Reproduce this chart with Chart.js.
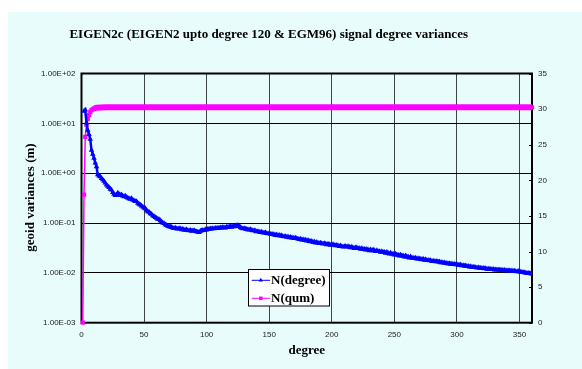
<!DOCTYPE html>
<html>
<head>
<meta charset="utf-8">
<script src="https://cdn.jsdelivr.net/npm/chart.js@4"></script>
<style>
  html, body { margin: 0; padding: 0; background: #fff; }
  #wrap { position: absolute; left: 8px; top: 12px; width: 574px; height: 357px; background: #E8FCFC; }
</style>
</head>
<body>
<div id="wrap"><canvas id="chart" width="574" height="357"></canvas></div>
<script>
/* ── EIGEN2c signal degree variances ─────────────────────── */
const chartTitle = 'EIGEN2c (EIGEN2 upto degree 120 & EGM96) signal degree variances';
const xTitle = 'degree';
const yTitle = 'geoid variances (m)';
const seriesNames = ['N(degree)', 'N(qum)'];

// x axis
const xTicks = [0, 50, 100, 150, 200, 250, 300, 350];
// left log axis
const yTicks = [0.001, 0.01, 0.1, 1, 10, 100];
const yTickLabels = ['1.00E-03', '1.00E-02', '1.00E-01', '1.00E+00', '1.00E+01', '1.00E+02'];
// right axis
const y2Ticks = [0, 5, 10, 15, 20, 25, 30, 35];

// N(degree): one value per degree, starting at degree 2
const firstDegree = 2;
const nDegree = [
  17.5, 18.5, 10.2, 7.3, 6.0, 4.8, 2.9, 2.4, 2.0, 1.6,
  1.35, 0.93, 0.88, 0.85, 0.79, 0.74, 0.69, 0.64, 0.58, 0.55,
  0.52, 0.48, 0.46, 0.41, 0.38, 0.36, 0.37, 0.40, 0.38, 0.36,
  0.37, 0.35, 0.34, 0.35, 0.33, 0.32, 0.31, 0.30, 0.31, 0.29,
  0.28, 0.27, 0.27, 0.25, 0.24, 0.23, 0.22, 0.21, 0.20, 0.195,
  0.18, 0.17, 0.165, 0.155, 0.15, 0.14, 0.135, 0.13, 0.125, 0.12,
  0.118, 0.112, 0.106, 0.10, 0.098, 0.093, 0.09, 0.087, 0.085, 0.084,
  0.082, 0.080, 0.078, 0.080, 0.077, 0.076, 0.078, 0.077, 0.074, 0.076,
  0.073, 0.072, 0.074, 0.071, 0.070, 0.072, 0.069, 0.070, 0.071, 0.068,
  0.067, 0.066, 0.065, 0.069, 0.070, 0.072, 0.071, 0.074, 0.073, 0.076,
  0.075, 0.077, 0.076, 0.078, 0.077, 0.079, 0.078, 0.080, 0.079, 0.081,
  0.080, 0.082, 0.081, 0.080, 0.083, 0.082, 0.084, 0.085, 0.083, 0.086,
  0.085, 0.088, 0.087, 0.090, 0.086, 0.082, 0.079, 0.077, 0.078, 0.076,
  0.075, 0.074, 0.073, 0.074, 0.072, 0.070, 0.071, 0.069, 0.067, 0.068,
  0.066, 0.065, 0.066, 0.064, 0.063, 0.064, 0.062, 0.061, 0.062, 0.060,
  0.059, 0.060, 0.058, 0.057, 0.058, 0.056, 0.057, 0.055, 0.056, 0.054,
  0.053, 0.054, 0.052, 0.053, 0.051, 0.052, 0.050, 0.051, 0.049, 0.050,
  0.049, 0.048, 0.047, 0.048, 0.046, 0.047, 0.045, 0.046, 0.044, 0.045,
  0.043, 0.0425, 0.043, 0.041, 0.042, 0.040, 0.041, 0.040, 0.039, 0.040,
  0.039, 0.038, 0.039, 0.038, 0.037, 0.038, 0.037, 0.036, 0.037, 0.037,
  0.036, 0.035, 0.036, 0.035, 0.034, 0.035, 0.034, 0.033, 0.034, 0.034,
  0.033, 0.034, 0.033, 0.032, 0.033, 0.032, 0.031, 0.032, 0.032, 0.031,
  0.031, 0.030, 0.031, 0.030, 0.030, 0.029, 0.030, 0.029, 0.028, 0.029,
  0.028, 0.029, 0.028, 0.027, 0.028, 0.027, 0.027, 0.026, 0.027, 0.026,
  0.026, 0.025, 0.026, 0.025, 0.024, 0.025, 0.024, 0.024, 0.023, 0.024,
  0.023, 0.023, 0.022, 0.023, 0.022, 0.022, 0.021, 0.022, 0.021, 0.021,
  0.020, 0.021, 0.020, 0.020, 0.0195, 0.020, 0.019, 0.0195, 0.019, 0.0188,
  0.0185, 0.019, 0.018, 0.0185, 0.0178, 0.018, 0.0175, 0.0178, 0.017, 0.0174,
  0.017, 0.0168, 0.0172, 0.0165, 0.0168, 0.016, 0.0163, 0.0158, 0.016, 0.0155,
  0.0157, 0.0152, 0.0155, 0.015, 0.0152, 0.0148, 0.015, 0.0146, 0.0147, 0.0144,
  0.0142, 0.0145, 0.014, 0.0141, 0.0137, 0.0139, 0.0135, 0.0136, 0.0132, 0.0134,
  0.013, 0.0132, 0.0128, 0.0129, 0.0126, 0.0128, 0.0124, 0.0126, 0.0123, 0.0124,
  0.0121, 0.0123, 0.0119, 0.012, 0.0118, 0.0119, 0.0117, 0.0118, 0.0115, 0.0116,
  0.0116, 0.0114, 0.0115, 0.0113, 0.0114, 0.0112, 0.0113, 0.0111, 0.0112, 0.011,
  0.0111, 0.0109, 0.011, 0.0108, 0.0109, 0.0107, 0.0106, 0.0108, 0.0105, 0.0104,
  0.0103, 0.0102, 0.0101, 0.0100, 0.0099, 0.0098, 0.0097, 0.0096, 0.0095
];

// N(qum): cumulative, right axis
const qumDegrees = [1, 2, 3, 4, 5, 6, 7, 8, 9, 10, 12, 15, 20, 30, 60, 100, 150, 200, 250, 300, 360];
const qumValues  = [0, 18.0, 26.1, 27.8, 28.6, 29.2, 29.6, 29.85, 30.0, 30.1, 30.18, 30.22, 30.25, 30.25, 30.25, 30.25, 30.25, 30.25, 30.25, 30.25, 30.25];

const blue = '#0000FF';
const pink = '#FF00FF';
const serif = '"Liberation Serif", "Times New Roman", serif';
const sans  = '"Liberation Sans", Arial, sans-serif';

const decor = {
  id: 'decor',
  beforeDatasetsDraw(chart) {
    const { ctx, chartArea: a, scales } = chart;
    ctx.save();
    ctx.strokeStyle = '#000';
    ctx.lineWidth = 2;
    ctx.strokeRect(a.left, a.top, a.right - a.left, a.bottom - a.top);
    ctx.lineWidth = 1;
    y2Ticks.forEach(v => {
      const y = Math.round(scales.y2.getPixelForValue(v)) + 0.5;
      ctx.beginPath(); ctx.moveTo(a.right - 3, y); ctx.lineTo(a.right, y); ctx.stroke();
    });
    ctx.restore();
  },
  afterDraw(chart) {
    const { ctx } = chart;
    ctx.save();
    ctx.fillStyle = '#000';
    ctx.textAlign = 'center';
    ctx.textBaseline = 'middle';
    ctx.font = 'bold 13px ' + serif;
    ctx.fillText(chartTitle, 260.7, 22.7);
    ctx.fillText(xTitle, 298.7, 339);
    ctx.translate(23, 185.5);
    ctx.rotate(-Math.PI / 2);
    ctx.fillText(yTitle, 0, 0);
    ctx.restore();

    // legend box
    ctx.save();
    const bx = 240.5, by = 257.5, bw = 81, bh = 36.5;
    ctx.fillStyle = '#fff';
    ctx.fillRect(bx, by, bw, bh);
    ctx.strokeStyle = '#000';
    ctx.lineWidth = 1;
    ctx.strokeRect(bx, by, bw, bh);
    const rows = [
      { name: seriesNames[0], color: blue, style: 'triangle', y: 268.3 },
      { name: seriesNames[1], color: pink, style: 'rect', y: 286.3 }
    ];
    rows.forEach(r => {
      ctx.strokeStyle = r.color;
      ctx.lineWidth = 1;
      ctx.beginPath(); ctx.moveTo(243.7, r.y); ctx.lineTo(262, r.y); ctx.stroke();
      ctx.fillStyle = r.color;
      Chart.helpers.drawPoint(ctx, { pointStyle: r.style, radius: 2.5, borderWidth: 0 }, 252.8, r.y);
      ctx.fillStyle = '#000';
      ctx.textAlign = 'left';
      ctx.textBaseline = 'middle';
      ctx.font = 'bold 13px ' + serif;
      ctx.fillText(r.name, 263, r.y + 0.5);
    });
    ctx.restore();
  }
};

new Chart(document.getElementById('chart'), {
  type: 'line',
  data: {
    datasets: [
      {
        label: seriesNames[0],
        data: nDegree.map((v, i) => ({ x: firstDegree + i, y: v })),
        yAxisID: 'y',
        borderColor: blue,
        backgroundColor: blue,
        borderWidth: 2.5,
        pointStyle: 'triangle',
        pointRadius: 3.2,
        pointBorderWidth: 0,
        tension: 0
      },
      {
        label: seriesNames[1],
        data: qumDegrees.map((d, i) => ({ x: d, y: qumValues[i] })),
        yAxisID: 'y2',
        borderColor: pink,
        backgroundColor: pink,
        borderWidth: 1.5,
        segment: { borderWidth: c => (c.p0.parsed.y > 30 ? 6 : 1.5) },
        pointStyle: 'rect',
        pointRadius: 3,
        pointBorderWidth: 0,
        tension: 0,
        clip: 5
      }
    ]
  },
  options: {
    responsive: false,
    animation: false,
    devicePixelRatio: 1,
    layout: { padding: { top: 61.5, left: 0, right: 0, bottom: 0 } },
    plugins: { legend: { display: false }, title: { display: false }, tooltip: { enabled: false } },
    scales: {
      x: {
        type: 'linear', min: 0, max: 360,
        afterBuildTicks: axis => { axis.ticks = xTicks.map(v => ({ value: v })); },
        afterFit: s => { s.height = 46.3; },
        ticks: { font: { family: sans, size: 8 }, color: '#222', padding: 7, maxRotation: 0 },
        grid: { color: '#3c4444', lineWidth: 1, drawTicks: false },
        border: { display: false }
      },
      y: {
        type: 'logarithmic', position: 'left', min: 0.001, max: 100,
        afterBuildTicks: axis => { axis.ticks = yTicks.map(v => ({ value: v })); },
        afterFit: s => { s.width = 73.5; },
        ticks: {
          font: { family: sans, size: 8 }, color: '#222', padding: 6,
          callback: v => yTickLabels[yTicks.indexOf(v)] ?? ''
        },
        grid: { color: '#000', lineWidth: 1, drawTicks: false },
        border: { display: false }
      },
      y2: {
        type: 'linear', position: 'right', min: 0, max: 35,
        afterBuildTicks: axis => { axis.ticks = y2Ticks.map(v => ({ value: v })); },
        afterFit: s => { s.width = 50; },
        ticks: { font: { family: sans, size: 8 }, color: '#222', padding: 6 },
        grid: { display: false, drawTicks: false },
        border: { display: false }
      }
    }
  },
  plugins: [decor]
});
</script>
</body>
</html>
